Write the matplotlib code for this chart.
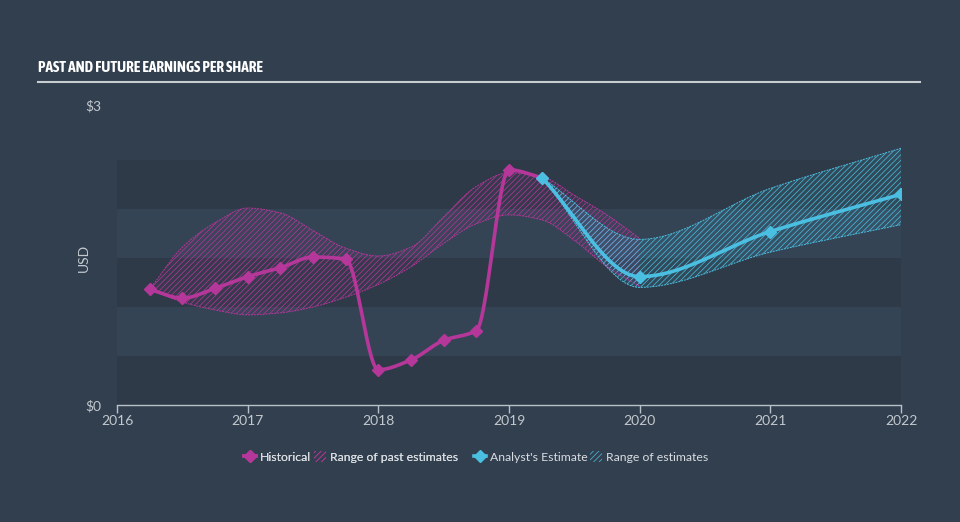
import numpy as np
import matplotlib.pyplot as plt
from matplotlib import font_manager
from matplotlib.lines import Line2D
from matplotlib.patches import Patch

# earnings per share (decimal years)
hist_t = [2016.25, 2016.5, 2016.75, 2017.0, 2017.25, 2017.5, 2017.75,
          2018.0, 2018.25, 2018.5, 2018.75, 2019.0, 2019.25]
hist_eps = [1.18, 1.09, 1.19, 1.31, 1.40, 1.51, 1.49,
            0.36, 0.46, 0.66, 0.76, 2.40, 2.32]

past_t = [2016.25, 2016.5, 2016.75, 2017.0, 2017.25, 2017.5, 2017.75, 2018.0,
          2018.25, 2018.5, 2018.75, 2019.0, 2019.25, 2019.5, 2019.75, 2020.0]
past_hi = [1.18, 1.61, 1.86, 2.01, 1.96, 1.78, 1.60, 1.52,
           1.61, 1.92, 2.23, 2.37, 2.33, 2.14, 1.94, 1.70]
past_lo = [1.18, 1.05, 0.97, 0.92, 0.94, 1.00, 1.10, 1.23,
           1.41, 1.65, 1.85, 1.94, 1.89, 1.68, 1.41, 1.21]

est_t = [2019.25, 2020.0, 2021.0, 2022.0]
est_eps = [2.32, 1.31, 1.77, 2.15]
est_hi = [2.32, 1.69, 2.21, 2.62]
est_lo = [2.32, 1.20, 1.56, 1.84]

years = [2016, 2017, 2018, 2019, 2020, 2021, 2022]

BG = '#323f4e'
BAND_DARK = '#2e3a48'
BAND_LIGHT = '#344455'
MAG = '#b5379a'
CYAN = '#4bbfe2'
TXT = '#c3c9cf'


def pchip(x, y, xn):
    # monotone cubic so the curves look smooth like the original
    x = np.asarray(x, float)
    y = np.asarray(y, float)
    h = np.diff(x)
    d = np.diff(y) / h
    m = np.zeros_like(y)
    for k in range(1, len(x) - 1):
        if d[k - 1] * d[k] > 0:
            w1 = 2 * h[k] + h[k - 1]
            w2 = h[k] + 2 * h[k - 1]
            m[k] = (w1 + w2) / (w1 / d[k - 1] + w2 / d[k])
    m[0] = d[0]
    m[-1] = d[-1]
    i = np.clip(np.searchsorted(x, xn) - 1, 0, len(h) - 1)
    t = (xn - x[i]) / h[i]
    h00 = 2 * t**3 - 3 * t**2 + 1
    h10 = t**3 - 2 * t**2 + t
    h01 = -2 * t**3 + 3 * t**2
    h11 = t**3 - t**2
    return h00 * y[i] + h10 * h[i] * m[i] + h01 * y[i + 1] + h11 * h[i] * m[i + 1]


# look for a bold narrow font for the title
narrow = None
for f in font_manager.fontManager.ttflist:
    if ('Narrow' in f.name or 'Condensed' in f.name) and f.weight in ('bold', 700):
        narrow = f.name
        break
if narrow is None:
    for f in font_manager.fontManager.ttflist:
        if 'Narrow' in f.name or 'Condensed' in f.name:
            narrow = f.name
            break
title_font = [narrow, 'DejaVu Sans'] if narrow else ['DejaVu Sans']

plt.rcParams['font.family'] = ['Lato', 'DejaVu Sans']
plt.rcParams['hatch.linewidth'] = 0.5

fig = plt.figure(figsize=(9.6, 5.22), dpi=100, facecolor=BG)
ax = fig.add_axes([117 / 960, (522 - 405) / 522, 784 / 960, 294 / 522])
ax.set_facecolor(BG)

# horizontal bands
for k in range(5):
    ax.axhspan(k * 0.5, (k + 1) * 0.5, color=BAND_DARK if k % 2 == 0 else BAND_LIGHT,
               lw=0, zorder=0)

# past range
pt = np.linspace(past_t[0], past_t[-1], 300)
phi = pchip(past_t, past_hi, pt)
plo = pchip(past_t, past_lo, pt)
ax.fill_between(pt, plo, phi, facecolor=MAG, alpha=0.08, lw=0, zorder=1)
ax.fill_between(pt, plo, phi, facecolor='none', edgecolor=MAG, hatch='//////',
                lw=0, zorder=1)
ax.plot(pt, phi, color=MAG, lw=0.7, ls=(0, (2, 1)), zorder=2)
ax.plot(pt, plo, color=MAG, lw=0.7, ls=(0, (2, 1)), zorder=2)

# future range
et = np.linspace(est_t[0], est_t[-1], 300)
ehi = pchip(est_t, est_hi, et)
elo = pchip(est_t, est_lo, et)
ax.fill_between(et, elo, ehi, facecolor=CYAN, alpha=0.12, lw=0, zorder=1)
ax.fill_between(et, elo, ehi, facecolor='none', edgecolor=CYAN, hatch='//////',
                lw=0, zorder=1)
ax.plot(et, ehi, color=CYAN, lw=0.7, ls=(0, (2, 1)), zorder=2)
ax.plot(et, elo, color=CYAN, lw=0.7, ls=(0, (2, 1)), zorder=2)
ax.plot([est_t[-1], est_t[-1]], [est_lo[-1], est_hi[-1]], color=CYAN, lw=0.7,
        ls=(0, (2, 1)), zorder=2)

# historical line
ht = np.linspace(hist_t[0], hist_t[-1], 400)
ax.plot(ht, pchip(hist_t, hist_eps, ht), color=MAG, lw=2.6, zorder=3,
        solid_capstyle='round')
ax.plot(hist_t, hist_eps, ls='none', marker='D', ms=6, color=MAG, zorder=4)

# analyst estimate line
ax.plot(et, pchip(est_t, est_eps, et), color=CYAN, lw=2.6, zorder=5,
        solid_capstyle='round')
ax.plot(est_t, est_eps, ls='none', marker='D', ms=6, color=CYAN, zorder=6)

ax.set_xlim(2016, 2022)
ax.set_ylim(0, 3)
ax.set_xticks(years)
ax.set_xticklabels([str(y) for y in years])
ax.set_yticks([0, 3])
ax.set_yticklabels(['$0', '$3'])
ax.tick_params(axis='x', colors='#b8c0c8', length=6, width=1, labelcolor=TXT,
               labelsize=10, pad=1)
ax.tick_params(axis='y', length=0, labelcolor=TXT, labelsize=10, pad=11)
ax.get_yticklabels()[1].set_va('baseline')
for s in ['top', 'right', 'left']:
    ax.spines[s].set_visible(False)
ax.spines['bottom'].set_color('#b8c0c8')
ax.spines['bottom'].set_linewidth(1)
ax.set_ylabel('USD', color=TXT, fontsize=10)
ax.yaxis.set_label_coords(-0.034, 0.5)

# title and rule
fig.text(38 / 960, 1 - 68 / 522, 'PAST AND FUTURE EARNINGS PER SHARE',
         family=title_font, weight='bold', fontsize=11,
         color='white', va='center', ha='left')
fig.add_artist(Line2D([38 / 960, 920 / 960], [1 - 82 / 522, 1 - 82 / 522],
                      color='#c8cdd2', lw=1.5))

# legend
h1 = [Line2D([], [], color=MAG, lw=2.6, marker='D', ms=6),
      Patch(facecolor='none', edgecolor=MAG, hatch='//////', lw=0)]
h2 = [Line2D([], [], color=CYAN, lw=2.6, marker='D', ms=6),
      Patch(facecolor='none', edgecolor=CYAN, hatch='//////', lw=0)]
kw = dict(ncol=2, frameon=False, fontsize=8.8, labelcolor='#d8dde2',
          handlelength=1.0, handletextpad=0.3, columnspacing=0.2,
          loc='center', handleheight=0.9)
leg1 = fig.legend(h1, ['Historical', 'Range of past estimates'],
                  bbox_to_anchor=(351 / 960, 1 - 457 / 522), **kw)
fig.add_artist(leg1)
fig.legend(h2, ["Analyst's Estimate", 'Range of estimates'],
           bbox_to_anchor=(591 / 960, 1 - 457 / 522), **kw)

fig.savefig('out.png', dpi=100, facecolor=BG)
